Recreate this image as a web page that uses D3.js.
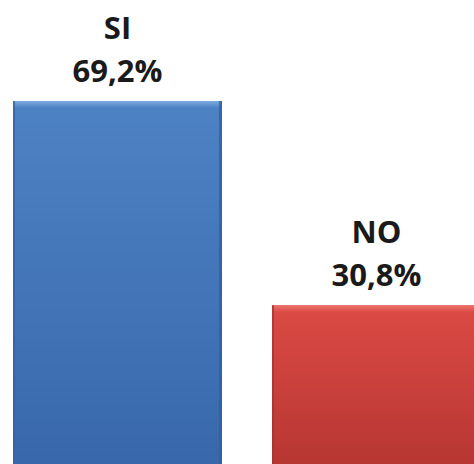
<!DOCTYPE html>
<html>
<head>
<meta charset="utf-8">
<script src="https://cdn.jsdelivr.net/npm/d3@7"></script>
<style>
html,body{margin:0;padding:0;background:#fff;}
svg{display:block;}
</style>
</head>
<body>
<script>
const categories = ["SI", "NO"];
const values = [69.2, 30.8];
const valueLabels = ["69,2%", "30,8%"];

const W = 474, H = 464;
const svg = d3.select("body").append("svg").attr("width", W).attr("height", H);

const x = d3.scaleBand().domain(categories).range([13, 481]).paddingInner(0.193).paddingOuter(0);
const y = d3.scaleLinear().domain([0, 88.2]).range([469, 0]);

const defs = svg.append("defs");
const pal = {
  SI: {top: "#4d82c4", bot: "#3868ab", hi: "#7eaae0", edge: "#345f9c"},
  NO: {top: "#dc4a45", bot: "#b63632", hi: "#ec7470", edge: "#a53230"}
};
categories.forEach(c => {
  const g = defs.append("linearGradient").attr("id", "g" + c).attr("x1", 0).attr("y1", 0).attr("x2", 0).attr("y2", 1);
  g.append("stop").attr("offset", "0%").attr("stop-color", pal[c].top);
  g.append("stop").attr("offset", "100%").attr("stop-color", pal[c].bot);
  const h = defs.append("linearGradient").attr("id", "h" + c).attr("x1", 0).attr("y1", 0).attr("x2", 0).attr("y2", 1);
  h.append("stop").attr("offset", "0%").attr("stop-color", pal[c].hi);
  h.append("stop").attr("offset", "100%").attr("stop-color", pal[c].top);
});

const bars = svg.selectAll("g.bar").data(categories).join("g").attr("class", "bar");
bars.append("rect")
  .attr("x", d => x(d)).attr("y", (d, i) => y(values[i]))
  .attr("width", x.bandwidth()).attr("height", (d, i) => y(0) - y(values[i]))
  .attr("fill", d => `url(#g${d})`);
// top bevel highlight
bars.append("rect")
  .attr("x", d => x(d) + 1).attr("y", (d, i) => y(values[i]))
  .attr("width", x.bandwidth() - 2).attr("height", 7)
  .attr("fill", d => `url(#h${d})`);
// side edges
bars.append("rect")
  .attr("x", d => x(d)).attr("y", (d, i) => y(values[i]))
  .attr("width", 2).attr("height", (d, i) => y(0) - y(values[i]))
  .attr("fill", d => pal[d].edge).attr("opacity", 0.7);
bars.append("rect")
  .attr("x", d => x(d) + x.bandwidth() - 3).attr("y", (d, i) => y(values[i]))
  .attr("width", 3).attr("height", (d, i) => y(0) - y(values[i]))
  .attr("fill", d => pal[d].edge).attr("opacity", 0.8);

const font = "'Open Sans', 'DejaVu Sans', sans-serif";
bars.append("text")
  .attr("x", d => x(d) + x.bandwidth() / 2)
  .attr("y", (d, i) => y(values[i]) - 62)
  .attr("text-anchor", "middle")
  .attr("font-family", font).attr("font-weight", 700).attr("font-size", 31)
  .attr("fill", "#1a1a1a")
  .text(d => d);
bars.append("text")
  .attr("x", d => x(d) + x.bandwidth() / 2)
  .attr("y", (d, i) => y(values[i]) - 19)
  .attr("text-anchor", "middle")
  .attr("font-family", font).attr("font-weight", 700).attr("font-size", 31)
  .attr("fill", "#1a1a1a")
  .text((d, i) => valueLabels[i]);
</script>
</body>
</html>
